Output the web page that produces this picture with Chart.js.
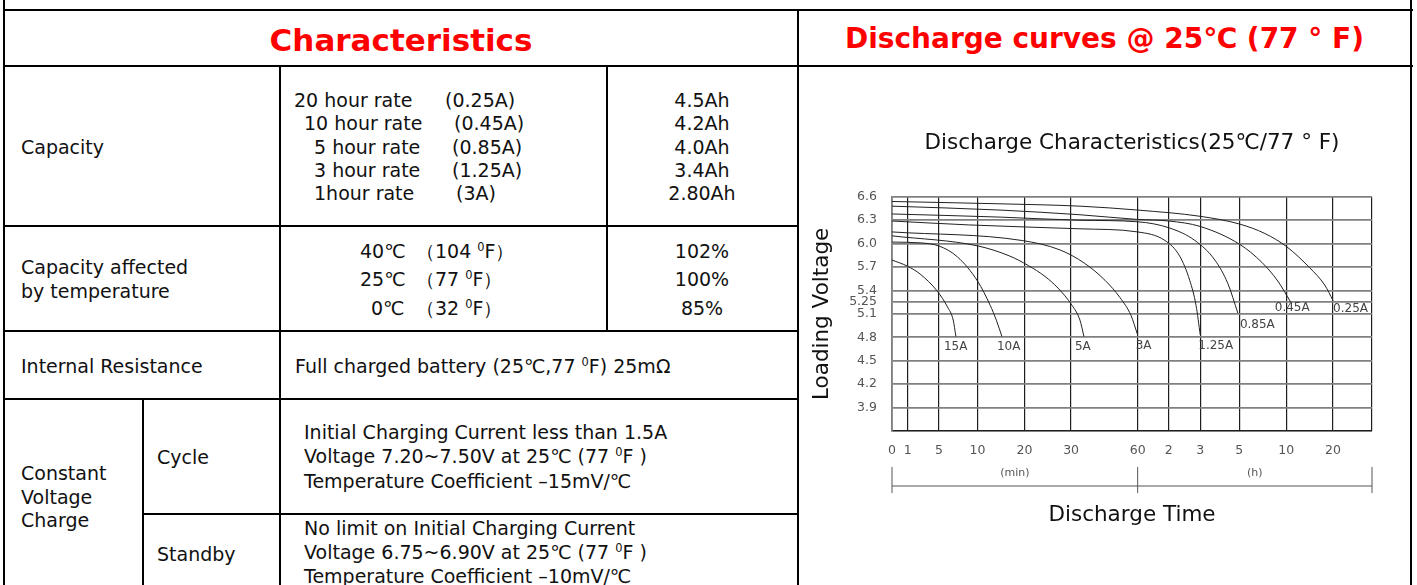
<!DOCTYPE html>
<html>
<head>
<meta charset="utf-8">
<script src="https://cdn.jsdelivr.net/npm/chart.js@4.4.1/dist/chart.umd.min.js"></script>
<style>
body { margin: 0; background: #fff; }
#page { position: relative; width: 1417px; height: 585px; overflow: hidden; font-family: 'DejaVu Sans', sans-serif; color: #111; }
.h { position: absolute; height: 2px; background: #000; }
.v { position: absolute; width: 2px; background: #000; }
.t { position: absolute; font-size: 19px; line-height: 22px; white-space: pre; }
.c { text-align: center; }
.red { position: absolute; color: #f00; font-weight: bold; text-align: center; line-height: 34px; white-space: pre; }
sup { font-size: 0.6em; line-height: 0; vertical-align: 0.6em; }
#chartBox { position: absolute; left: 800px; top: 68px; width: 610px; height: 517px; }
</style>
</head>
<body>
<div id="page">
  <!-- table lines -->
  <div class="h" style="left:3px;top:9px;width:1410px"></div>
  <div class="h" style="left:3px;top:65px;width:1410px"></div>
  <div class="v" style="left:3px;top:0;height:585px"></div>
  <div class="v" style="left:1410px;top:0;height:585px"></div>
  <div class="v" style="left:797px;top:10px;height:575px"></div>
  <div class="h" style="left:3px;top:225px;width:796px"></div>
  <div class="h" style="left:3px;top:330px;width:796px"></div>
  <div class="h" style="left:3px;top:398px;width:796px"></div>
  <div class="h" style="left:142px;top:513px;width:657px"></div>
  <div class="v" style="left:279px;top:66px;height:519px"></div>
  <div class="v" style="left:606px;top:66px;height:265px"></div>
  <div class="v" style="left:142px;top:399px;height:186px"></div>

  <div class="red" style="left:5px;top:23px;width:792px;font-size:31px">Characteristics</div>
  <div class="red" style="left:799px;top:22px;width:611px;font-size:28px">Discharge curves @ 25℃ (77 ° F)</div>

  <!-- capacity -->
  <div class="t" style="left:21px;top:136px">Capacity</div>
  <div class="t" style="left:294px;top:89px">20 hour rate</div>
  <div class="t" style="left:445px;top:89px">(0.25A)</div>
  <div class="t" style="left:304px;top:112px">10 hour rate</div>
  <div class="t" style="left:454px;top:112px">(0.45A)</div>
  <div class="t" style="left:314px;top:136px">5 hour rate</div>
  <div class="t" style="left:452px;top:136px">(0.85A)</div>
  <div class="t" style="left:314px;top:159px">3 hour rate</div>
  <div class="t" style="left:452px;top:159px">(1.25A)</div>
  <div class="t" style="left:314px;top:182px">1hour rate</div>
  <div class="t" style="left:456px;top:182px">(3A)</div>
  <div class="t c" style="left:608px;top:89px;width:188px">4.5Ah</div>
  <div class="t c" style="left:608px;top:112px;width:188px">4.2Ah</div>
  <div class="t c" style="left:608px;top:136px;width:188px">4.0Ah</div>
  <div class="t c" style="left:608px;top:159px;width:188px">3.4Ah</div>
  <div class="t c" style="left:608px;top:182px;width:188px">2.80Ah</div>

  <!-- temperature -->
  <div class="t" style="left:21px;top:256px">Capacity affected</div>
  <div class="t" style="left:21px;top:280px">by temperature</div>
  <div class="t" style="left:360px;top:240px">40℃</div>
  <div class="t" style="left:416px;top:240px">（104 <sup>0</sup>F）</div>
  <div class="t" style="left:360px;top:268px">25℃</div>
  <div class="t" style="left:416px;top:268px">（77 <sup>0</sup>F）</div>
  <div class="t" style="left:371px;top:297px">0℃</div>
  <div class="t" style="left:416px;top:297px">（32 <sup>0</sup>F）</div>
  <div class="t c" style="left:608px;top:240px;width:188px">102%</div>
  <div class="t c" style="left:608px;top:268px;width:188px">100%</div>
  <div class="t c" style="left:608px;top:297px;width:188px">85%</div>

  <!-- internal resistance -->
  <div class="t" style="left:21px;top:355px">Internal Resistance</div>
  <div class="t" style="left:295px;top:355px">Full charged battery (25℃,77 <sup>0</sup>F) 25mΩ</div>

  <!-- constant voltage charge -->
  <div class="t" style="left:21px;top:462px">Constant</div>
  <div class="t" style="left:21px;top:486px">Voltage</div>
  <div class="t" style="left:21px;top:509px">Charge</div>
  <div class="t" style="left:157px;top:446px">Cycle</div>
  <div class="t" style="left:157px;top:543px">Standby</div>
  <div class="t" style="left:304px;top:421px">Initial Charging Current less than 1.5A</div>
  <div class="t" style="left:304px;top:445px">Voltage 7.20~7.50V at 25℃ (77 <sup>0</sup>F )</div>
  <div class="t" style="left:304px;top:470px">Temperature Coefficient –15mV/℃</div>
  <div class="t" style="left:304px;top:517px">No limit on Initial Charging Current</div>
  <div class="t" style="left:304px;top:541px">Voltage 6.75~6.90V at 25℃ (77 <sup>0</sup>F )</div>
  <div class="t" style="left:304px;top:565px">Temperature Coefficient –10mV/℃</div>

  <div id="chartBox"><canvas id="curves" width="610" height="517"></canvas></div>
</div>

<script>
// discharge time in minutes, voltage in V
const currents = ['15A', '10A', '5A', '3A', '1.25A', '0.85A', '0.45A', '0.25A'];

const time15A = [0, 1.0, 2.6, 4.8, 6.1, 6.85, 7.2];
const volt15A = [5.79, 5.71, 5.61, 5.39, 5.19, 5.02, 4.81];
const time10A = [0, 2.6, 5, 7.4, 10, 12.7, 14, 15.2];
const volt10A = [6.02, 6.01, 5.97, 5.83, 5.52, 5.21, 5.02, 4.81];
const time5A = [0, 10.1, 16.9, 20.8, 24.4, 27.2, 30.4, 34, 35.8];
const volt5A = [6.10, 5.97, 5.84, 5.72, 5.58, 5.43, 5.21, 5.02, 4.81];
const time3A = [0, 19.5, 27.6, 36, 45.3, 52, 57, 60];
const volt3A = [6.15, 6.04, 5.92, 5.75, 5.53, 5.31, 5.08, 4.83];
const time125 = [0, 8.8, 34, 60, 113, 141, 160, 172, 180];
const volt125 = [6.29, 6.24, 6.19, 6.15, 6.04, 5.84, 5.53, 5.21, 4.83];
const time085 = [0, 14.8, 34, 60, 122, 170, 225, 265, 296];
const volt085 = [6.38, 6.34, 6.30, 6.28, 6.20, 6.04, 5.79, 5.49, 5.11];
const time045 = [0, 14.8, 34, 60, 120, 180, 304, 445, 547, 659];
const volt045 = [6.48, 6.43, 6.37, 6.31, 6.29, 6.22, 5.99, 5.76, 5.52, 5.25];
const time025 = [0, 14.8, 34, 60, 180, 304, 464, 608, 902, 1093, 1200];
const volt025 = [6.54, 6.51, 6.48, 6.43, 6.35, 6.25, 6.13, 5.96, 5.69, 5.47, 5.27];

// x axis: minutes up to 60, then hours; the grid is not evenly spaced
const xBreaks = [0, 1, 5, 10, 20, 30, 60, 120, 180, 300, 600, 1200, 1800];
const xTickLabels = ['0', '1', '5', '10', '20', '30', '60', '2', '3', '5', '10', '20', ''];
const yTicks = [3.6, 3.9, 4.2, 4.5, 4.8, 5.1, 5.25, 5.4, 5.7, 6.0, 6.3, 6.6];
const yTickLabels = ['', '3.9', '4.2', '4.5', '4.8', '5.1', '5.25', '5.4', '5.7', '6.0', '6.3', '6.6'];

const curves = [
    [time15A, volt15A], [time10A, volt10A], [time5A, volt5A], [time3A, volt3A],
    [time125, volt125], [time085, volt085], [time045, volt045], [time025, volt025]
];

// where each break sits along the axis (fraction of the width), as drawn on the sheet
const xBreakFrac = [0, 0.0326, 0.0978, 0.1782, 0.276, 0.3731, 0.5118, 0.5763, 0.6422, 0.7233, 0.8211, 0.9189, 1];

class SegmentScale extends Chart.LinearScale {
    getPixelForValue(value) {
        let dec = 1;
        if (value <= xBreaks[0]) {
            dec = 0;
        } else {
            for (let i = 1; i < xBreaks.length; i++) {
                if (value <= xBreaks[i]) {
                    const k = (value - xBreaks[i - 1]) / (xBreaks[i] - xBreaks[i - 1]);
                    dec = xBreakFrac[i - 1] + k * (xBreakFrac[i] - xBreakFrac[i - 1]);
                    break;
                }
            }
        }
        return this.getPixelForDecimal(dec);
    }
    getValueForPixel(pixel) {
        const dec = this.getDecimalForPixel(pixel);
        for (let i = 1; i < xBreakFrac.length; i++) {
            if (dec <= xBreakFrac[i]) {
                const k = (dec - xBreakFrac[i - 1]) / (xBreakFrac[i] - xBreakFrac[i - 1]);
                return xBreaks[i - 1] + k * (xBreaks[i] - xBreaks[i - 1]);
            }
        }
        return xBreaks[xBreaks.length - 1];
    }
}
SegmentScale.id = 'segment';
Chart.register(SegmentScale);

Chart.defaults.font.family = "'DejaVu Sans', sans-serif";

// label offsets next to the end of each curve
const labelShift = {
    '15A': [-12, 10], '10A': [-5, 10], '5A': [-9, 10], '3A': [-2, 11],
    '1.25A': [-2, 11], '0.85A': [2, 12], '0.45A': [-16, 6], '0.25A': [0, 8]
};

const curveLabels = {
    id: 'curveLabels',
    afterDatasetsDraw(chart) {
        const ctx = chart.ctx;
        ctx.save();
        ctx.font = "12px 'DejaVu Sans'";
        ctx.fillStyle = '#444';
        ctx.textAlign = 'left';
        ctx.textBaseline = 'middle';
        chart.data.datasets.forEach((ds, i) => {
            const pts = chart.getDatasetMeta(i).data;
            const end = pts[pts.length - 1];
            const shift = labelShift[ds.label] || [0, 10];
            ctx.fillText(ds.label, end.x + shift[0], end.y + shift[1]);
        });
        ctx.restore();
    }
};

// (min) | (h) bracket under the time axis
const timeBracket = {
    id: 'timeBracket',
    afterDraw(chart) {
        const sx = chart.scales.x;
        const ctx = chart.ctx;
        const x0 = sx.getPixelForValue(0);
        const x1 = sx.getPixelForValue(60);
        const x2 = sx.getPixelForValue(sx.max);
        const y = sx.top + 55;
        ctx.save();
        ctx.strokeStyle = '#555';
        ctx.lineWidth = 1;
        ctx.beginPath();
        ctx.moveTo(x0, y); ctx.lineTo(x2, y);
        [x0, x1, x2].forEach(x => { ctx.moveTo(x, y - 19); ctx.lineTo(x, y + 7); });
        ctx.stroke();
        ctx.font = "11px 'DejaVu Sans'";
        ctx.fillStyle = '#555';
        ctx.textAlign = 'center';
        ctx.textBaseline = 'middle';
        ctx.fillText('(min)', (x0 + x1) / 2, y - 13);
        ctx.fillText('(h)', (x1 + x2) / 2, y - 13);
        ctx.restore();
    }
};

new Chart(document.getElementById('curves'), {
    type: 'line',
    data: {
        datasets: curves.map((c, i) => ({
            label: currents[i],
            data: c[0].map((t, j) => ({ x: t, y: c[1][j] })),
            borderColor: '#222',
            borderWidth: 1,
            pointRadius: 0,
            fill: false,
            cubicInterpolationMode: 'monotone'
        }))
    },
    options: {
        responsive: false,
        animation: false,
        layout: { padding: { left: 6, right: 38, top: 63, bottom: 53 } },
        plugins: {
            legend: { display: false },
            tooltip: { enabled: false },
            title: {
                display: true,
                fullSize: false,
                text: 'Discharge Characteristics(25℃/77 ° F)',
                color: '#111',
                font: { size: 21.5, weight: 'normal' },
                padding: { top: 0, bottom: 40 }
            }
        },
        scales: {
            x: {
                type: 'segment',
                min: 0,
                max: 1800,
                afterBuildTicks: s => { s.ticks = xBreaks.map(v => ({ value: v })); },
                afterFit: s => { s.height = 101; },
                grid: { color: '#1e1e1e', lineWidth: 1.2, drawTicks: false },
                border: { color: '#1e1e1e', width: 1.2 },
                ticks: {
                    autoSkip: false, maxRotation: 0, padding: 12, color: '#555',
                    font: { size: 12.5 },
                    callback: (v, i) => xTickLabels[i]
                },
                title: { display: true, text: 'Discharge Time', color: '#111', font: { size: 21.5 } }
            },
            y: {
                min: 3.6,
                max: 6.6,
                afterBuildTicks: s => { s.ticks = yTicks.map(v => ({ value: v })); },
                afterFit: s => { s.width = 86; },
                grid: { color: '#808080', lineWidth: 1.8, drawTicks: false },
                border: { color: '#808080', width: 1.8 },
                ticks: {
                    autoSkip: false, padding: 15, color: '#555',
                    font: { size: 12.5 },
                    callback: (v, i) => yTickLabels[i]
                },
                title: { display: true, text: 'Loading Voltage', color: '#111', font: { size: 21.5 } }
            }
        }
    },
    plugins: [curveLabels, timeBracket]
});
</script>
</body>
</html>
